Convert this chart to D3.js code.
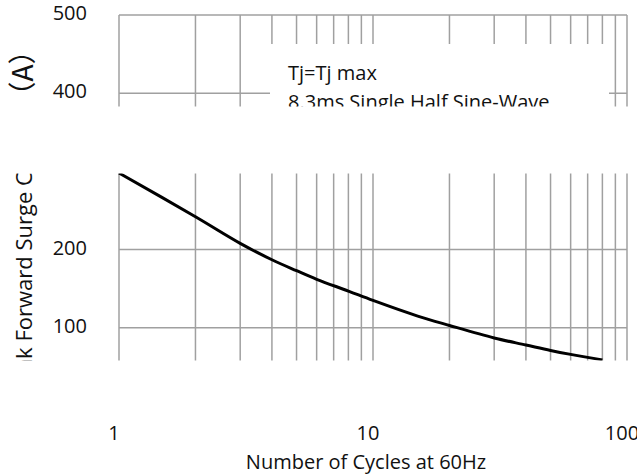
<!DOCTYPE html>
<html lang="en">
<head>
    <style>
        body { margin: 0; background: #fff; }
        text { font-family: "Open Sans", "Noto Sans CJK SC", sans-serif; fill: #111; }
        .grid { stroke: #a0a0a0; stroke-width: 1.5; fill: none; }
        .curve { stroke: #000; stroke-width: 3; fill: none; }
    </style>
    <script src="https://d3js.org/d3.v7.min.js"></script>
</head>
<body>
    <svg width="637" height="475"></svg>
    <script>
        // values
        var cycles = [1, 2, 3, 4, 5, 6, 8, 10, 15, 20, 30, 40, 50, 60, 80];
        var surge  = [298, 242, 208, 187, 173, 162, 147, 135, 115, 103, 87, 78, 71, 66, 59];
        var yGridValues = [100, 200, 300, 400, 500];
        var yLabels = [500, 400, 200, 100];
        var xLabels = [1, 10, 100];
        var note1 = "Tj=Tj max";
        var note2 = "8.3ms Single Half Sine-Wave";
        var yTitle = "Peak Forward Surge Current";
        var yUnit = "（A）";
        var xTitle = "Number of Cycles at 60Hz";

        var svg = d3.select("svg");

        var x = d3.scaleLog().domain([1, 100]).range([119, 627]),
            y = d3.scaleLinear().domain([0, 500]).range([406, 15]);

        var g = svg.append("g");

        // horizontal grid
        g.selectAll(".hgrid")
         .data(yGridValues)
         .enter().append("line")
         .attr("class", "grid")
         .attr("x1", x(1)).attr("x2", x(100))
         .attr("y1", function(d) { return y(d); })
         .attr("y2", function(d) { return y(d); });

        // vertical grid (log decades)
        g.selectAll(".vgrid")
         .data(x.ticks())
         .enter().append("line")
         .attr("class", "grid")
         .attr("x1", function(d) { return x(d); })
         .attr("x2", function(d) { return x(d); })
         .attr("y1", y(500)).attr("y2", y(0));

        var line = d3.line()
            .x(function(d, i) { return x(cycles[i]); })
            .y(function(d) { return y(d); })
            .curve(d3.curveCatmullRom.alpha(0.5));

        g.append("path")
         .datum(surge)
         .attr("class", "curve")
         .attr("d", line);

        // white note box over the grid
        g.append("rect")
         .attr("x", 270).attr("y", 44)
         .attr("width", 339).attr("height", 70)
         .attr("fill", "#fff");

        g.append("text")
         .attr("x", 288).attr("y", 80)
         .attr("font-size", "20px")
         .text(note1);

        g.append("text")
         .attr("x", 288).attr("y", 109)
         .attr("font-size", "20px")
         .text(note2);

        // y axis title
        svg.append("text")
         .attr("transform", "translate(32,107) rotate(-90)")
         .attr("text-anchor", "end")
         .attr("font-size", "22px")
         .text(yTitle);

        svg.append("text")
         .attr("transform", "translate(33,73) rotate(-90)")
         .attr("text-anchor", "middle")
         .style("font-family", "'Noto Sans CJK SC', sans-serif")
         .attr("font-size", "28px")
         .text(yUnit);

        // y tick labels
        svg.selectAll(".ylab")
         .data(yLabels)
         .enter().append("text")
         .attr("x", 87)
         .attr("y", function(d) { return y(d) + 5; })
         .attr("text-anchor", "end")
         .attr("font-size", "20px")
         .text(function(d) { return d; });

        // blank bands
        svg.append("rect")
         .attr("x", 0).attr("y", 106.5)
         .attr("width", 637).attr("height", 67)
         .attr("fill", "#fff");

        svg.append("rect")
         .attr("x", 0).attr("y", 360.5)
         .attr("width", 637).attr("height", 60)
         .attr("fill", "#fff");

        // x tick labels
        svg.selectAll(".xlab")
         .data(xLabels)
         .enter().append("text")
         .attr("x", function(d) { return x(d) - 5; })
         .attr("y", 440)
         .attr("text-anchor", "middle")
         .attr("font-size", "20px")
         .text(function(d) { return d; });

        svg.append("text")
         .attr("x", 366).attr("y", 469)
         .attr("text-anchor", "middle")
         .attr("font-size", "20px")
         .text(xTitle);
    </script>
</body>
</html>
